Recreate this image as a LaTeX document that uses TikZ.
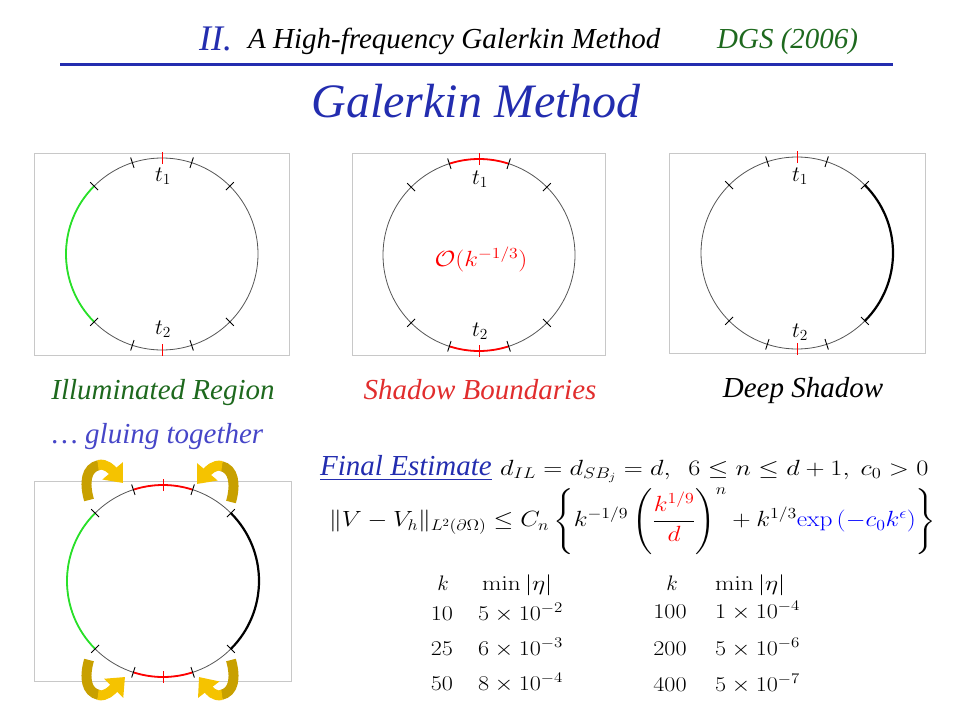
\RequirePackage{fix-cm}
\documentclass[tikz,border=0pt]{standalone}
\usepackage{amsmath,amssymb}
\usepackage[no-math]{fontspec}
\setmainfont{Liberation Serif}
\usetikzlibrary{positioning, arrows.meta, calc}
\definecolor{headblue}{RGB}{35,45,175}
\definecolor{glueblue}{RGB}{70,70,200}
\definecolor{dgsgreen}{RGB}{30,105,30}
\definecolor{sbred}{RGB}{225,45,45}
\definecolor{framegray}{RGB}{200,200,200}
\definecolor{rimgray}{RGB}{85,85,85}
\definecolor{illgreen}{RGB}{40,225,40}
\definecolor{golddark}{RGB}{200,160,0}
\definecolor{goldlight}{RGB}{245,195,0}
% circle, arcs and the tick marks on its rim
\newcommand{\Rim}[1]{%
	\draw[rim] (#1) circle[radius=96];
}
\newcommand{\RimTicks}[1]{%
	\foreach \a in {45,72,108,135,225,252,288,315}
	\draw[tick] ($(#1)+(\a:90.5)$) -- ($(#1)+(\a:101.5)$);
	\foreach \a in {90,270}
	\draw[tick, red] ($(#1)+(\a:90)$) -- ($(#1)+(\a:102)$);
}
\newcommand{\RimArc}[4]{%
	\draw[#1] ($(#2)+(#3:96)$) arc[start angle=#3, end angle=#4, radius=96];
}

\begin{document}
\begin{tikzpicture}[x=1pt, y=-1pt, >=Stealth,
	txt/.style={font=\fontsize{29}{34}\selectfont\itshape, inner sep=0pt},
	mth/.style={font=\fontsize{22}{26}\selectfont, inner sep=0pt},
	tab/.style={font=\fontsize{21}{25}\selectfont, inner sep=0pt},
	frame/.style={draw=framegray, line width=1pt},
	rim/.style={draw=rimgray, line width=0.8pt},
	tick/.style={line width=0.9pt},
	lit/.style={illgreen, line width=1.8pt},
	sb/.style={red, line width=1.8pt},
	deep/.style={black, line width=2.2pt},
	gluetail/.style={golddark, line width=10pt},
	gluehead/.style={goldlight, line width=10pt, -{Triangle[width=26pt, length=16pt]}}]
	
	\useasboundingbox (0,0) rectangle (960,720);
	
	% Header
	\node[txt, anchor=base west, headblue, font=\fontsize{36}{40}\selectfont\itshape] (num) at (199,50) {II.};
	\node[txt, anchor=base west] (sub) at (248,48) {A High-frequency Galerkin Method};
	\node[txt, anchor=base west, dgsgreen] (dgs) at (717,48) {DGS (2006)};
	\draw[headblue, line width=3pt] (60,64) -- (893,64);
	\node[txt, anchor=base, headblue, font=\fontsize{48}{52}\selectfont\itshape] (title) at (476,117) {Galerkin Method};
	
	% Illuminated region
	\coordinate (ca) at (162,254);
	\draw[frame] (34,153) rectangle (289,355);
	\Rim{ca}
	\RimArc{lit}{ca}{135}{225}
	\RimTicks{ca}
	\node[mth] (ta1) at (163,176) {$t_1$};
	\node[mth] (ta2) at (163,329) {$t_2$};
	
	% Shadow boundaries
	\coordinate (cb) at (479,255);
	\draw[frame] (352,153) rectangle (605,355);
	\Rim{cb}
	\RimArc{sb}{cb}{72}{108}
	\RimArc{sb}{cb}{252}{288}
	\RimTicks{cb}
	\node[mth] (tb1) at (480,179) {$t_1$};
	\node[mth] (tb2) at (480,331) {$t_2$};
	\node[mth, red] (order) at (481,259) {\scalebox{1.15}[1]{$\mathcal{O}(k^{-1/3})$}};
	
	% Deep shadow
	\coordinate (cc) at (797,253);
	\draw[frame] (669,153) rectangle (925,353);
	\Rim{cc}
	\RimArc{deep}{cc}{-45}{45}
	\RimTicks{cc}
	\node[mth] (tc1) at (800,176) {$t_1$};
	\node[mth] (tc2) at (800,332) {$t_2$};
	
	% Captions
	\node[txt, anchor=base, dgsgreen] (illum) at (163,399) {Illuminated Region};
	\node[txt, anchor=base, sbred] (shadow) at (480,399) {Shadow Boundaries};
	\node[txt, anchor=base] (deepsh) at (803,397) {Deep Shadow};
	\node[txt, anchor=base west, glueblue] (gluing) at (52,443) {\dots\ gluing together};
	
	% Glued boundary
	\coordinate (cd) at (163,581);
	\draw[frame] (34,481) rectangle (291,681);
	\Rim{cd}
	\RimArc{lit}{cd}{135}{225}
	\RimArc{sb}{cd}{72}{108}
	\RimArc{sb}{cd}{252}{288}
	\RimArc{deep}{cd}{-45}{45}
	\RimTicks{cd}
	
	% Gluing arrows
	\draw[gluetail] (89,500) .. controls (84,482) and (86,468) .. (99,465);
	\draw[gluehead] (98,465) .. controls (106,463) and (112,470) .. (123,483);
	\draw[gluetail] (231,502) .. controls (236,484) and (234,469) .. (221,466);
	\draw[gluehead] (222,466) .. controls (214,464) and (208,471) .. (197,484);
	\draw[gluetail] (89,660) .. controls (84,678) and (86,692) .. (99,695);
	\draw[gluehead] (98,695) .. controls (106,697) and (112,690) .. (125,677);
	\draw[gluetail] (231,660) .. controls (236,678) and (234,692) .. (221,695);
	\draw[gluehead] (222,695) .. controls (214,697) and (209,690) .. (199,677);
	
	% Final estimate
	\node[txt, anchor=base west, headblue] (final) at (320,475) {\underline{Final Estimate}};
	\node[mth, anchor=base west] (cond) at (500,475)
	{\scalebox{1.2}[1]{$d_{IL}=d_{SB_j}=d,\ \ 6\le n\le d+1,\ c_0>0$}};
	\node[mth, anchor=west] (bound) at (329,521)
	{\scalebox{1.155}[1]{$\|V-V_h\|_{L^2(\partial\Omega)}\le C_n\left\{k^{-1/9}\left(\dfrac{\color{red}k^{1/9}}{\color{red}d}\right)^{n}+k^{1/3}{\color{blue}\exp\left(-c_0k^{\epsilon}\right)}\right\}$}};
	
	% Table of min |eta|
	\node[tab, anchor=base] (k1) at (443,590) {$k$};
	\node[tab, anchor=base west] (e1) at (482,590) {\scalebox{1.2}[1]{$\min|\eta|$}};
	\node[tab, anchor=base] (k2) at (672,590) {$k$};
	\node[tab, anchor=base west] (e2) at (715,590) {\scalebox{1.2}[1]{$\min|\eta|$}};
	\foreach \kk/\ee/\yy [count=\i] in {10/5\times10^{-2}/620, 25/6\times10^{-3}/655, 50/8\times10^{-4}/690}
	{
		\node[tab, anchor=base] (ka\i) at (442,\yy) {\scalebox{1.15}[1]{$\kk$}};
		\node[tab, anchor=base west] (ea\i) at (478,\yy) {\scalebox{1.15}[1]{$\ee$}};
	}
	\foreach \kk/\ee/\yy [count=\i] in {100/1\times10^{-4}/618, 200/5\times10^{-6}/655, 400/5\times10^{-7}/691}
	{
		\node[tab, anchor=base] (kb\i) at (670,\yy) {\scalebox{1.15}[1]{$\kk$}};
		\node[tab, anchor=base west] (eb\i) at (715,\yy) {\scalebox{1.15}[1]{$\ee$}};
	}
	
\end{tikzpicture}
\end{document}
